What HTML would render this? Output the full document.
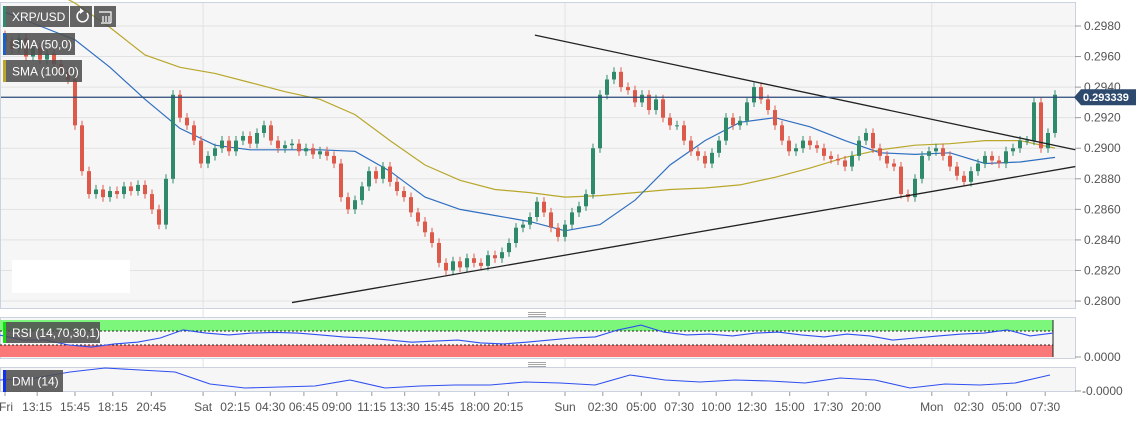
<!DOCTYPE html>
<html><head><meta charset="utf-8"><style>
body{margin:0;background:#fff;}
svg{display:block;font-family:"Liberation Sans",sans-serif;}
</style></head><body>
<svg id="c" width="1144" height="426" viewBox="0 0 1144 426"></svg>
<script>
const closes=[0.2970,0.2965,0.2972,0.2960,0.2966,0.2958,0.2962,0.2955,0.2950,0.2945,
0.2915,0.2885,0.2870,0.2873,0.2868,0.2872,0.2870,0.2875,0.2872,0.2876,
0.2870,0.2860,0.2850,0.2880,0.2935,0.2920,0.2915,0.2905,0.2890,0.2895,
0.2900,0.2905,0.2898,0.2905,0.2908,0.2903,0.2910,0.2915,0.2905,0.2900,
0.2902,0.2903,0.2898,0.2900,0.2896,0.2898,0.2895,0.2890,0.2868,0.2860,
0.2866,0.2875,0.2885,0.2880,0.2888,0.2878,0.2872,0.2868,0.2858,0.2852,
0.2845,0.2838,0.2825,0.2820,0.2826,0.2822,0.2828,0.2825,0.2823,0.2830,
0.2828,0.2832,0.2838,0.2848,0.2850,0.2855,0.2865,0.2858,0.2848,0.2842,
0.2850,0.2858,0.2862,0.2870,0.2900,0.2935,0.2945,0.2950,0.2940,0.2938,
0.2930,0.2935,0.2925,0.2932,0.2920,0.2915,0.2915,0.2905,0.2898,0.2895,
0.2890,0.2897,0.2905,0.2920,0.2915,0.2918,0.2930,0.2940,0.2932,0.2925,
0.2915,0.2905,0.2898,0.2900,0.2905,0.2902,0.2900,0.2895,0.2893,0.2892,
0.2888,0.2895,0.2905,0.2910,0.2900,0.2895,0.2890,0.2888,0.2870,0.2868,
0.2880,0.2895,0.2898,0.2900,0.2895,0.2888,0.2882,0.2878,0.2885,0.2890,
0.2895,0.2892,0.2890,0.2898,0.2900,0.2905,0.2905,0.2930,0.2900,0.2910,0.2935];
const sma50=[0.2989,0.2980,0.2971,0.2953,0.2932,0.2913,0.2902,0.2899,0.2899,0.2899,0.2898,0.2885,0.2868,0.2860,0.2856,0.2852,0.2846,0.2850,0.2866,0.2889,0.2905,0.2917,0.2920,0.2914,0.2905,0.2897,0.2896,0.2897,0.2890,0.2891,0.2894];
const sma100=[0.3017,0.3007,0.2995,0.2979,0.2961,0.2953,0.2949,0.2943,0.2937,0.2932,0.2922,0.2905,0.2889,0.2879,0.2873,0.2871,0.2868,0.2869,0.2871,0.2873,0.2874,0.2876,0.2881,0.2887,0.2894,0.2899,0.2902,0.2903,0.2905,0.2905,0.2900];
const rsi=[58,44,44,30,24,33,38,50,73,64,59,64,66,64,59,53,50,44,38,41,44,36,33,38,44,50,53,73,87,67,59,61,56,64,67,59,53,61,56,44,50,56,61,64,73,56,64];
const dmi=[12,14,20,24,22,20,8,4,5,6,12,4,6,7,7,10,9,7,17,12,10,12,11,9,14,12,4,8,7,9,17];
const yTicks=[0.2980,0.2960,0.2940,0.2920,0.2900,0.2880,0.2860,0.2840,0.2820,0.2800];
const xLabels=["Fri","13:15","15:45","18:15","20:45","Sat","02:15","04:30","06:45","09:00","11:15","13:30","15:45","18:00","20:15","Sun","02:30","05:00","07:30","10:00","12:30","15:00","17:30","20:00","Mon","02:30","05:00","07:30"];
const xLabelIdx=[0,4.6,10,15.4,20.9,28.3,32.9,37.9,42.7,47.4,52.4,57.1,62,67.1,71.9,80,85.4,90.9,96.3,101.6,106.7,112.1,117.6,123,132.4,137.7,143.1,148.6];
const upperTrend=[[75.7,0.2974],[152.9,0.2899]];
const lowerTrend=[[41,0.2799],[152.9,0.2888]];
const lastPrice=0.293339;

const NS="http://www.w3.org/2000/svg",svg=document.getElementById('c');
function el(t,a,p){const e=document.createElementNS(NS,t);for(const k in a)e.setAttribute(k,a[k]);(p||svg).appendChild(e);return e;}
const X=i=>5+7*i;
const Y=p=>26+(0.2980-p)/0.002*30.56;
const R=v=>331+(70-v)*0.35;
const D=v=>392-v;

let r=el('rect',{x:0.5,y:2.5,width:1075,height:306,fill:'#f6f6f6',stroke:'#ccd3e0'});

yTicks.forEach(t=>{const y=Y(t);
 el('line',{x1:1,x2:1075,y1:y,y2:y,stroke:'#e2e2e2'});
 el('line',{x1:1075,x2:1081,y1:y,y2:y,stroke:'#999'});
 const tx=el('text',{x:1084,y:y+4,'font-size':12,fill:'#555'});tx.textContent=t.toFixed(4);
 });
[28.3,80,132.4].forEach(i=>{el('line',{x1:X(i),x2:X(i),y1:3,y2:392,stroke:'#e2e2e2'});});
let wp=el('rect',{x:12,y:260,width:118,height:33,fill:'#fff'});


function poly(vals,fx,fy,col,name,w){const pts=vals.map((v,i)=>fx(i).toFixed(1)+','+fy(v).toFixed(1)).join(' ');
 const p=el('polyline',{points:pts,fill:'none',stroke:col,'stroke-width':w||1.2});
 }
poly(sma100,i=>X(i*5),Y,'#b8a72a','sma-100-line');
poly(sma50,i=>X(i*5),Y,'#2f6fc0','sma-50-line');

closes.forEach((c,i)=>{const o=i?closes[i-1]:c+0.0004;const up=c>=o;const col=up?'#2f8a6c':'#dd5a4a';
 const hi=Math.max(o,c)+0.0003,lo=Math.min(o,c)-0.0003,x=X(i);
 el('line',{x1:x,x2:x,y1:Y(hi),y2:Y(lo),stroke:col});
 const b=el('rect',{x:x-2,y:Y(Math.max(o,c)),width:4,height:Math.max(1,Y(Math.min(o,c))-Y(Math.max(o,c))),fill:col});
 });

[upperTrend,lowerTrend].forEach((t,k)=>{const l=el('line',{x1:X(t[0][0]),y1:Y(t[0][1]),x2:X(t[1][0]),y2:Y(t[1][1]),stroke:'#222','stroke-width':1.3});
 });

const ly=Y(lastPrice);
el('line',{x1:1,x2:1075,y1:ly,y2:ly,stroke:'#2a4a78','stroke-width':1.2});
let tag=el('path',{d:`M1074 ${ly} L1081 ${ly-8} L1136 ${ly-8} L1136 ${ly+8} L1081 ${ly+8} Z`,fill:'#2d4a6e'});

let tt=el('text',{x:1083,y:ly+4,'font-size':11,'font-weight':'bold',fill:'#fff'});tt.textContent=lastPrice.toFixed(6);

/* RSI panel */
let rp=el('rect',{x:0.5,y:317.5,width:1075,height:41,fill:'#f6f6f6',stroke:'#ccd3e0'});

el('rect',{x:0,y:320,width:1053,height:11,fill:'#7cf77c'});
el('rect',{x:0,y:345,width:1053,height:12,fill:'#fa7878'});
el('line',{x1:0,x2:1053,y1:331,y2:331,stroke:'#222','stroke-dasharray':'2,2'});
el('line',{x1:0,x2:1053,y1:345,y2:345,stroke:'#222','stroke-dasharray':'2,2'});
el('line',{x1:1053,x2:1053,y1:320,y2:357,stroke:'#222'});
poly(rsi,i=>i*1053/(rsi.length-1),R,'#2f4ff0','rsi-line',1.1);
el('line',{x1:1075,x2:1081,y1:357,y2:357,stroke:'#999'});
let t0=el('text',{x:1084,y:361,'font-size':12,fill:'#555'});t0.textContent='0.0000';

/* DMI panel */
let dp=el('rect',{x:0.5,y:367.5,width:1075,height:24,fill:'#f6f6f6',stroke:'#ccd3e0'});

poly(dmi,i=>i*1050/(dmi.length-1),D,'#2f4ff0','dmi-line',1.1);
el('line',{x1:1075,x2:1081,y1:391,y2:391,stroke:'#999'});
let t1=el('text',{x:1082,y:395,'font-size':12,fill:'#555'});t1.textContent='-0.0000';

xLabels.forEach((s,k)=>{const x=X(xLabelIdx[k]);el('line',{x1:x,x2:x,y1:392,y2:396,stroke:'#999'});
 const t=el('text',{x:Math.max(x,6),y:411,'font-size':12,fill:'#555','text-anchor':'middle'});t.textContent=s;
 });

function badge(x,y,w,h,col,txt,name){const g=el('g',{});
 el('rect',{x:x,y:y,width:w,height:h,fill:'rgba(80,80,80,0.88)'},g);
 if(col)el('rect',{x:x,y:y,width:3,height:h,fill:col},g);
 if(txt){const t=el('text',{x:x+9,y:y+h/2+4.5,'font-size':12,fill:'#fff'},g);t.textContent=txt;}
 return g;}
badge(3,6,66,21,'#2f8a6c','XRP/USD','symbol-label');
const g1=badge(70,6,22,21,null,'','refresh-button');
el('path',{d:'M87 13 A5.5 5.5 0 1 1 81 11',fill:'none',stroke:'#fff','stroke-width':1.5},g1);
el('path',{d:'M80 8 L84 11 L80 14 Z',fill:'#fff'},g1);
const g2=badge(94,6,22,21,null,'','history-button');
el('path',{d:'M99 12 L111 12 L111 23 M101 23 L111 23 M103 16 V22 M106 16 V22 M109 16 V22',fill:'none',stroke:'#fff','stroke-width':1.2},g2);
badge(3,33,72,22,'#1f5fc4','SMA (50,0)','sma-50-legend');
badge(3,60,79,22,'#b8a72a','SMA (100,0)','sma-100-legend');
badge(3,322,97,21,'#10e010','RSI (14,70,30,1)','rsi-legend');
badge(3,370,60,22,'#1030f0','DMI (14)','dmi-legend');
/* panel splitters */
[312,362].forEach(y=>{for(let k=0;k<3;k++)el('line',{x1:528,x2:546,y1:y+k*2+0.5,y2:y+k*2+0.5,stroke:'#888','stroke-width':0.8});});
</script>
</body></html>
